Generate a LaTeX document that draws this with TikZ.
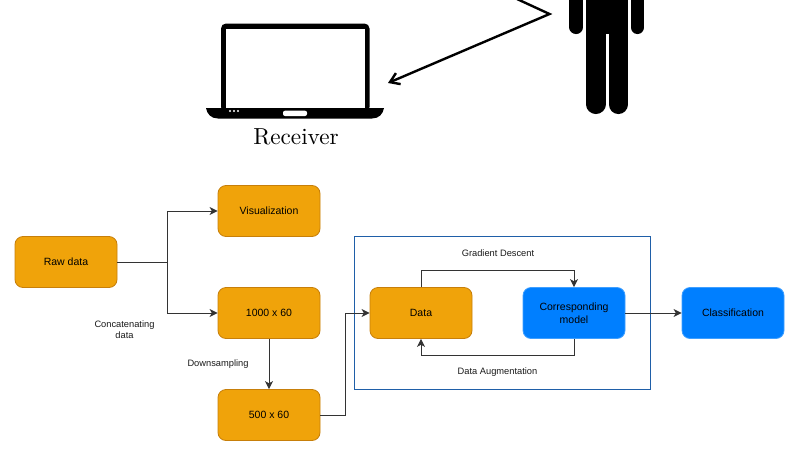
\documentclass[tikz,border=0pt]{standalone}
\usepackage{fontspec}
\setsansfont{Liberation Sans}
\usetikzlibrary{arrows.meta, positioning}
\definecolor{boxorange}{HTML}{F0A30A}
\definecolor{edgeorange}{HTML}{C77F0A}
\definecolor{boxblue}{HTML}{007FFF}
\definecolor{edgeblue}{HTML}{3F9FFF}
\definecolor{frameblue}{HTML}{1F5FA8}
\definecolor{linegray}{HTML}{333333}

\tikzset{
  procbox/.style={draw=edgeorange, fill=boxorange, line width=.8pt, rounded corners=8pt,
    minimum width=102pt, minimum height=51pt, align=center, text=black,
    font=\sffamily\fontsize{10.5}{12.5}\selectfont},
  modelbox/.style={procbox, draw=edgeblue, fill=boxblue},
  lbl/.style={align=center, text=black!90, inner sep=0pt,
    font=\sffamily\fontsize{9.3}{11}\selectfont},
  conn/.style={draw=linegray, line width=.9pt, -{Stealth[length=8pt,width=8pt,inset=2.2pt]}},
  solidline/.style={line width=#1, line cap=round}
}

\begin{document}
\begin{tikzpicture}[x=1pt, y=-1pt]
      \useasboundingbox (0,0) rectangle (808,455);

      % --- Laptop ---
      \fill[black, rounded corners=5pt] (221,23.5) rectangle (369.5,112);
      \fill[white] (226,28.5) rectangle (365,112);
      \fill[black] (206,108) -- (384,108) .. controls (383,114) and (379,118.5) .. (372,118.5)
        -- (218,118.5) .. controls (211,118.5) and (207,114) .. (206,108) -- cycle;
      \fill[white, rounded corners=2pt] (283,110.7) rectangle (307,116);
      \foreach \px in {230,234,238}
        \fill[white] (\px,111) circle (1.1pt);
      \node[inner sep=0pt, scale=2.32] (receiver) at (296,136.5) {Receiver};

      % --- Person ---
      \fill[black] (586,0) rectangle (628,34);
      \draw[solidline=19.5pt] (595.8,0) -- (595.8,104.3);
      \draw[solidline=19.5pt] (618.3,0) -- (618.3,104.3);
      \draw[solidline=13.5pt] (576.2,0) -- (576.2,27.3);
      \draw[solidline=13.5pt] (637.4,0) -- (637.4,27.3);

      % --- Signal line ---
      \coordinate (sigstart) at (517,-1);
      \coordinate (sigbend) at (549.5,14);
      \coordinate (sigend) at (388,83);
      \draw[line width=2.4pt, -{Straight Barb[length=9pt,width=12pt]}] (sigstart) -- (sigbend) -- (sigend);

      % --- Boxes ---
      \node[procbox] (rawdata) at (66,262) {Raw data};
      \node[procbox] (visual) at (269,211) {Visualization};
      \node[procbox] (full) at (269,313) {1000 x 60};
      \node[procbox] (down) at (269,415) {500 x 60};
      \node[procbox] (data) at (421,313) {Data};
      \node[modelbox] (model) at (574,313) {Corresponding\\model};
      \node[modelbox] (classif) at (733,313) {Classification};

      % --- Frame around the training loop ---
      \node[draw=frameblue, line width=1pt, minimum width=296pt, minimum height=153pt, inner sep=0pt]
        (frame) at (502,312.5) {};

      % --- Connectors ---
      \draw[conn] (rawdata.east) -- ++(50,0) |- (visual.west);
      \draw[conn] (rawdata.east) -- ++(50,0) |- (full.west);
      \draw[conn] (full.south) -- (down.north);
      \draw[conn] (down.east) -- ++(25,0) |- (data.west);
      \draw[conn] (data.north) -- ++(0,-17) -| (model.north);
      \draw[conn] (model.south) -- ++(0,17) -| (data.south);
      \draw[conn] (model.east) -- (classif.west);

      % --- Labels ---
      \node[lbl] (concat) at (124.5,330) {Concatenating\\data};
      \node[lbl] (downlbl) at (218,363.7) {Downsampling};
      \node[lbl] (gradlbl) at (498,253.5) {Gradient Descent};
      \node[lbl] (auglbl) at (497.5,371.7) {Data Augmentation};
\end{tikzpicture}
\end{document}
